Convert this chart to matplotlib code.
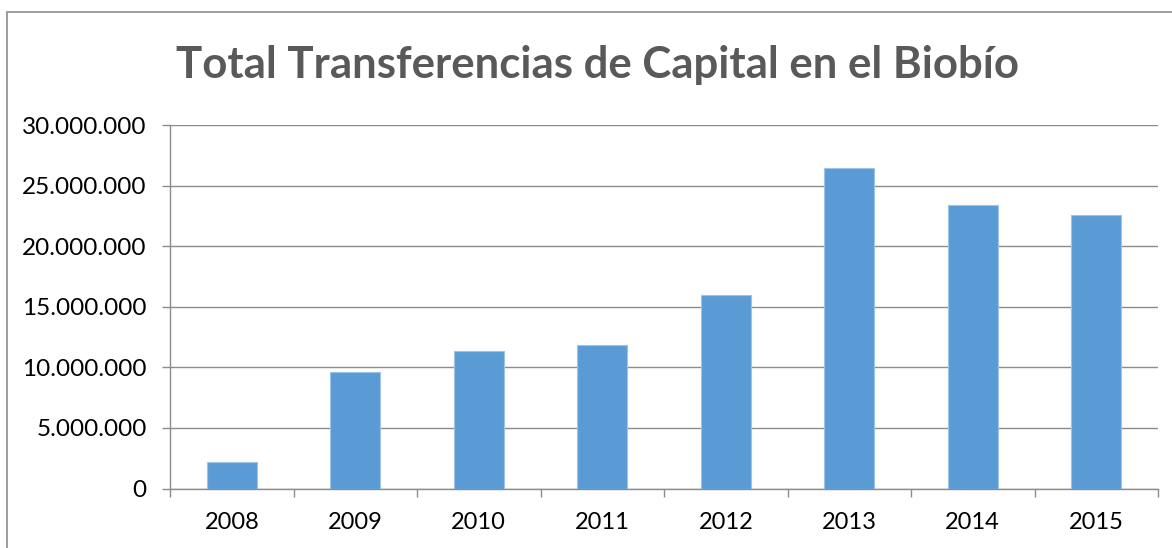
import matplotlib
matplotlib.use("Agg")
import matplotlib.pyplot as plt
from matplotlib.patches import Rectangle
from matplotlib.ticker import FuncFormatter, FixedLocator

years = ["2008", "2009", "2010", "2011", "2012", "2013", "2014", "2015"]
values = [2180000, 9580000, 11330000, 11850000, 15950000, 26480000, 23430000, 22610000]
title = "Total Transferencias de Capital en el Biobío"

W, H = 1172, 548
fig = plt.figure(figsize=(W/100, H/100), dpi=100)
plt.rcParams['font.family'] = ['Lato', 'DejaVu Sans']

# chart frame
fig.patches.append(Rectangle((7/W, -0.05), 1.2, 1.05 - 12/H, transform=fig.transFigure,
                             fill=False, edgecolor='#8c8c8c', linewidth=1.2))

ax = fig.add_axes([170/W, 1-488.5/H, (1158-170)/W, (488.5-125)/H])
x = list(range(len(years)))
ax.bar(x, values, width=0.405, color='#5B9BD5', edgecolor='#9DC3E6', linewidth=0.8, zorder=3)
ax.set_xlim(-0.5, len(years)-0.5)
ax.set_ylim(0, 30000000)
ax.set_yticks(range(0, 30000001, 5000000))
ax.yaxis.set_major_formatter(FuncFormatter(lambda v, p: f"{int(v):,}".replace(",", ".")))
ax.set_xticks(x)
ax.set_xticklabels(years)
ax.xaxis.set_minor_locator(FixedLocator([i - 0.5 for i in range(len(years)+1)]))
ax.tick_params(axis='x', which='major', length=0, pad=17, labelsize=17, labelcolor='black')
ax.tick_params(axis='x', which='minor', length=6, color='#8c8c8c', width=1)
ax.tick_params(axis='y', length=5.8, color='#8c8c8c', width=1, labelsize=17.5, pad=11, labelcolor='black')
ax.grid(axis='y', color='#8c8c8c', linewidth=1, zorder=0)
for s in ['top', 'right']:
    ax.spines[s].set_visible(False)
for s in ['left', 'bottom']:
    ax.spines[s].set_color('#8c8c8c')
    ax.spines[s].set_linewidth(1)

fig.text(597/W, 1-65/H, title, ha='center', va='center', fontsize=31.5, fontweight='bold', color='#595959')

fig.savefig("out.png", dpi=100)
